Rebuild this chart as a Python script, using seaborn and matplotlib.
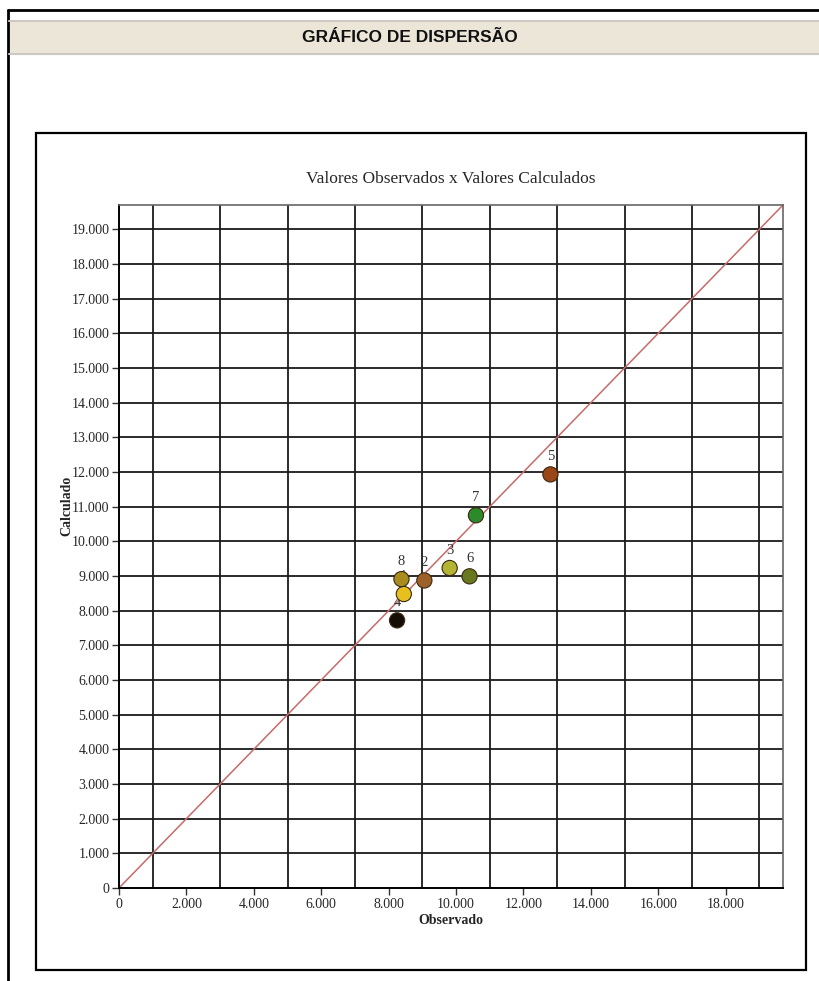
import matplotlib
matplotlib.use('Agg')
import matplotlib.pyplot as plt
from matplotlib.ticker import FixedLocator, FuncFormatter
from matplotlib.patches import Rectangle
from matplotlib.lines import Line2D
import seaborn as sns
import pandas as pd

# chart data
point_ids = [1, 2, 3, 4, 5, 6, 7, 8]
observado = [8450, 9060, 9810, 8250, 12800, 10400, 10590, 8380]
calculado = [8480, 8870, 9230, 7720, 11930, 8990, 10750, 8910]
point_colors = ['#e6c01e', '#9c6028', '#b4b434', '#140e06', '#9a4616', '#68781e', '#2c8a2a', '#a88c1e']

x_ticks = [0, 2000, 4000, 6000, 8000, 10000, 12000, 14000, 16000, 18000]
y_ticks = list(range(0, 20000, 1000))
x_grid = list(range(1000, 20000, 2000))
axis_max = 19700

df = pd.DataFrame({'id': point_ids, 'Observado': observado, 'Calculado': calculado})

sns.set_style('white')
plt.rcParams['font.family'] = ['Liberation Serif', 'DejaVu Serif']

fig = plt.figure(figsize=(8.19, 9.81), dpi=100)

# page decorations (border, header band, chart frame)
fig.add_artist(Line2D([8 / 819, 8 / 819], [0, 1 - 10 / 981], transform=fig.transFigure, color='black', lw=2))
fig.add_artist(Line2D([8 / 819, 1], [1 - 10 / 981, 1 - 10 / 981], transform=fig.transFigure, color='black', lw=2))
fig.add_artist(Rectangle((9 / 819, 1 - 54 / 981), 810 / 819, 33 / 981, transform=fig.transFigure,
                         facecolor='#ece6d8', edgecolor='none'))
for yy in (21, 54):
    fig.add_artist(Line2D([9 / 819, 1], [1 - yy / 981, 1 - yy / 981], transform=fig.transFigure,
                          color='#cdc8c2', lw=1.5))
fig.text(410 / 819, 1 - 38 / 981, 'GRÁFICO DE DISPERSÃO', ha='center', va='center', fontsize=12.5,
         fontweight='bold', family=['Liberation Sans', 'DejaVu Sans'], color='#111111')
fig.add_artist(Rectangle((36 / 819, 1 - 970 / 981), 770 / 819, 837 / 981, transform=fig.transFigure,
                         facecolor='none', edgecolor='black', lw=1.6))

ax = fig.add_axes([119 / 819, 1 - 888 / 981, 664 / 819, 683 / 981])

# grid lines
for gx in x_grid:
    ax.axvline(gx, color='#1a1a1a', lw=1.3, zorder=1)
for gy in y_ticks[1:]:
    ax.axhline(gy, color='#1a1a1a', lw=1.3, zorder=1)

ax.plot([0, axis_max], [0, axis_max], color='#c86a6a', lw=1.1, zorder=2)

for i, xo, yc in zip(point_ids, observado, calculado):
    ax.annotate(str(i), (xo, yc), xytext=(0, 8), textcoords='offset points', ha='center', va='bottom',
                fontsize=10.5, color='#333333', zorder=3)

sns.scatterplot(data=df, x='Observado', y='Calculado', hue='id', palette=point_colors, s=120,
                edgecolor='#3a2a10', linewidth=0.8, legend=False, ax=ax, zorder=4)

ax.set_xlim(0, axis_max)
ax.set_ylim(0, axis_max)
ax.xaxis.set_major_locator(FixedLocator(x_ticks))
ax.yaxis.set_major_locator(FixedLocator(y_ticks))
fmt = FuncFormatter(lambda v, p: f'{int(v):,}'.replace(',', '.'))
ax.xaxis.set_major_formatter(fmt)
ax.yaxis.set_major_formatter(fmt)
ax.tick_params(axis='both', which='major', direction='out', length=5, width=1, color='#333333',
               labelsize=10, pad=2, bottom=True, left=True)

for side in ('top', 'right'):
    ax.spines[side].set_color('#666666')
    ax.spines[side].set_linewidth(1.2)
for side in ('left', 'bottom'):
    ax.spines[side].set_color('black')
    ax.spines[side].set_linewidth(1.4)

ax.set_title('Valores Observados x Valores Calculados', fontsize=12.5, pad=16)
ax.set_xlabel('Observado', fontsize=10, fontweight='bold', labelpad=2)
ax.set_ylabel('Calculado', fontsize=10, fontweight='bold')
ax.yaxis.set_label_coords(-0.068, 0.56)

fig.savefig('out.png', dpi=100)
